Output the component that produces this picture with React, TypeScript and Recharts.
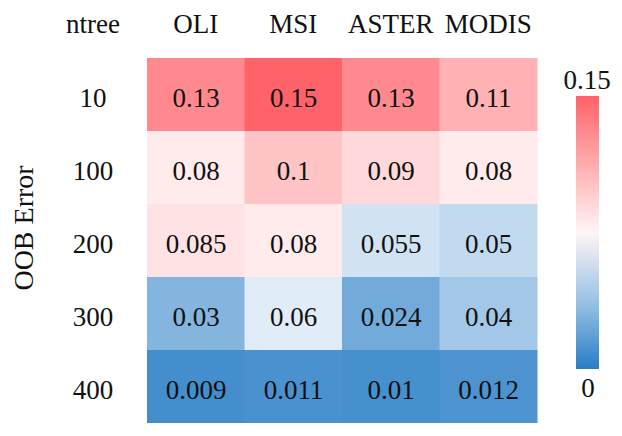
import { BarChart, Bar, XAxis, YAxis, Cell, LabelList } from 'recharts';

// columnas (sensores) y filas (ntree)
const sensores = ['OLI', 'MSI', 'ASTER', 'MODIS'];
const ntree = ['10', '100', '200', '300', '400'];

// OOB error por sensor, en el orden de ntree
const oli = [0.13, 0.08, 0.085, 0.03, 0.009];
const msi = [0.15, 0.1, 0.08, 0.06, 0.011];
const aster = [0.13, 0.09, 0.055, 0.024, 0.01];
const modis = [0.11, 0.08, 0.05, 0.04, 0.012];

const escala = [0, 0.15];
const centro = 0.07; // blanco
const FONT = '"Liberation Serif", "Times New Roman", serif';

const LOW = [40, 125, 198];
const MID = [255, 255, 255];
const HIGH = [255, 98, 104];

function mix(a: number[], b: number[], t: number) {
  const c = a.map((v, i) => Math.round(v + (b[i] - v) * t));
  return `rgb(${c[0]},${c[1]},${c[2]})`;
}

function heat(v: number) {
  const [lo, hi] = escala;
  if (v <= centro) return mix(LOW, MID, Math.max(0, (v - lo) / (centro - lo)));
  return mix(MID, HIGH, Math.min(1, (v - centro) / (hi - centro)));
}

const valores = [oli, msi, aster, modis];

// una fila por sensor: r{i}=1 (altura de celda), v{i}=valor
const data = sensores.map((s, ci) => {
  const o: Record<string, number | string> = { name: s };
  ntree.forEach((_, ri) => {
    o[`r${ri}`] = 1;
    o[`v${ri}`] = valores[ci][ri];
  });
  return o;
});

// de abajo (400) hacia arriba (10)
const orden = ntree.map((_, i) => ntree.length - 1 - i);

// paradas del degradado de la barra de color
const paradas = [0, 0.25, 0.5, 0.75, 1];

export default function App() {
  return (
    <div style={{ position: 'absolute', left: 0, top: 0, width: 622, height: 436, background: '#fff' }}>
      <BarChart
        width={622}
        height={436}
        data={data}
        barCategoryGap={0}
        margin={{ top: 0, right: 85, bottom: 13, left: 0 }}
      >
        <XAxis
          dataKey="name"
          orientation="top"
          height={58}
          axisLine={false}
          tickLine={false}
          tickMargin={19}
          tick={{ fill: '#111', fontSize: 27, fontFamily: FONT }}
        />
        <YAxis
          type="number"
          domain={[0, ntree.length]}
          ticks={ntree.map((_, i) => i + 0.5)}
          tickFormatter={(v: number) => ntree[ntree.length - 1 - Math.floor(v)]}
          width={147}
          axisLine={false}
          tickLine={false}
          tickMargin={48}
          tick={{ fill: '#111', fontSize: 27, fontFamily: FONT, textAnchor: 'middle', dy: 3 }}
        />
        {orden.map((ri) => (
          <Bar key={ri} dataKey={`r${ri}`} stackId="h" isAnimationActive={false}>
            {sensores.map((s, ci) => (
              <Cell key={s} fill={heat(valores[ci][ri])} />
            ))}
            <LabelList
              dataKey={`v${ri}`}
              content={(p: any) => (
                <text
                  x={Number(p.x) + Number(p.width) / 2}
                  y={Number(p.y) + Number(p.height) / 2}
                  dy={12}
                  textAnchor="middle"
                  fill="#111"
                  fontSize={27}
                  fontFamily={FONT}
                >
                  {String(p.value)}
                </text>
              )}
            />
          </Bar>
        ))}
      </BarChart>

      <svg
        width={622}
        height={436}
        style={{ position: 'absolute', left: 0, top: 0, pointerEvents: 'none' }}
      >
        <defs>
          <linearGradient id="cbar" x1="0" y1="1" x2="0" y2="0">
            {paradas.map((f) => (
              <stop
                key={f}
                offset={`${f * 100}%`}
                stopColor={heat(escala[0] + f * (escala[1] - escala[0]))}
              />
            ))}
          </linearGradient>
        </defs>
        <text x={93} y={33} textAnchor="middle" fill="#111" fontSize={27} fontFamily={FONT}>
          ntree
        </text>
        <text
          x={33}
          y={228}
          transform="rotate(-90 33 228)"
          textAnchor="middle"
          fill="#111"
          fontSize={28}
          fontFamily={FONT}
        >
          OOB Error
        </text>
        <rect x={576} y={96} width={23} height={273} fill="url(#cbar)" />
        <text x={587} y={89} textAnchor="middle" fill="#111" fontSize={27} fontFamily={FONT}>
          {String(escala[1])}
        </text>
        <text x={588} y={397} textAnchor="middle" fill="#111" fontSize={27} fontFamily={FONT}>
          {String(escala[0])}
        </text>
      </svg>
    </div>
  );
}
